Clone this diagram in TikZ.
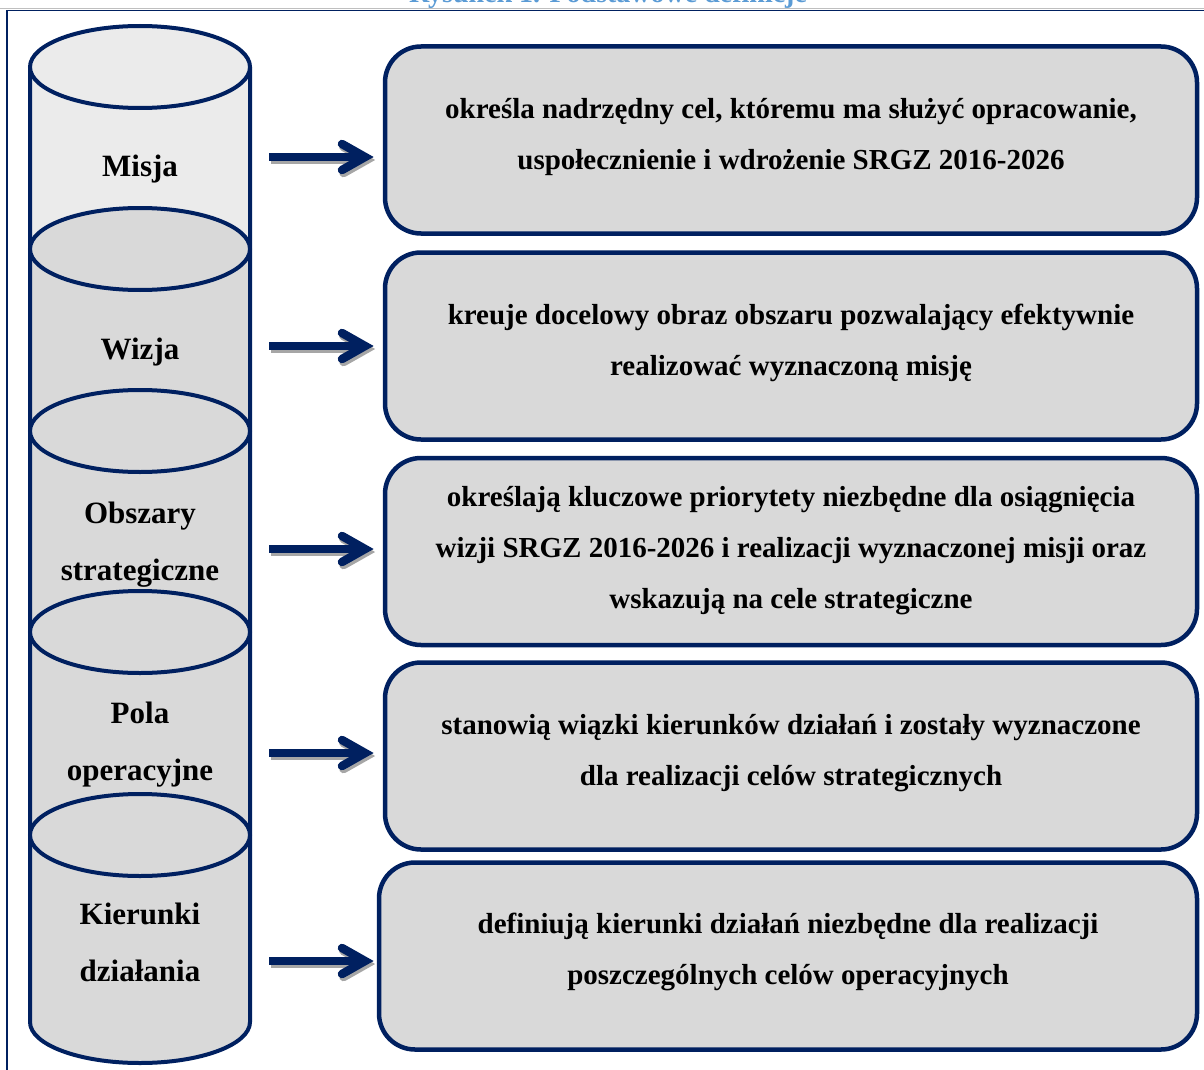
\documentclass[tikz,border=0pt]{standalone}
\usepackage{fontspec}
\setmainfont{Liberation Serif}
\definecolor{navy}{HTML}{002060}
\definecolor{boxgray}{HTML}{D9D9D9}
\definecolor{lightcyl}{HTML}{EBEBEB}
\definecolor{titleblue}{HTML}{5B9BD5}
\definecolor{shadowgray}{HTML}{A6A6A6}
\begin{document}
\begin{tikzpicture}[x=1pt,y=-1pt,
  cylline/.style={draw=navy, line width=4pt},
  cyltext/.style={font=\fontsize{31}{57}\selectfont\bfseries, align=center, inner sep=0pt},
  defbox/.style={draw=navy, line width=4.5pt, fill=boxgray, rounded corners=36pt,
     minimum width=812pt, minimum height=187pt, inner sep=0pt},
  boxtext/.style={font=\fontsize{29}{51}\selectfont\bfseries, align=center, inner sep=0pt},
  shaft/.style={draw=navy, line width=8pt},
  chev/.style={draw=navy, line width=8.5pt, miter limit=10, line cap=round},
  shaftshadow/.style={draw=shadowgray, line width=8pt},
  chevshadow/.style={draw=shadowgray, line width=8.5pt, miter limit=10, line cap=round},
  frameline/.style={draw=navy, line width=1.6pt},
  titletext/.style={font=\fontsize{28}{32}\selectfont\bfseries, text=titleblue, inner sep=0pt}
]
\useasboundingbox (0,0) rectangle (1204,1070);

% frame and clipped title
\draw[gray!50, line width=0.8pt] (0,8.2) -- (1204,8.2);
\draw[frameline] (7,1080) -- (7,10.5) -- (1215,10.5);
\node[titletext, anchor=base] (title) at (608,3) {Rysunek 1. Podstawowe definicje};

% cylinders
\newcommand{\mycyl}[3]{%
  \filldraw[cylline, fill=#3] (30,#1) -- (30,#2)
     arc[start angle=180, end angle=0, x radius=110, y radius=41] -- (250,#1);
  \filldraw[cylline, fill=#3] (140,#1) ellipse[x radius=110, y radius=41];
}
\mycyl{67}{249}{lightcyl}
\mycyl{249}{431}{boxgray}
\mycyl{431}{632}{boxgray}
\mycyl{632}{835}{boxgray}
\mycyl{835}{1022}{boxgray}

\node[cyltext] (misja) at (140,169) {Misja};
\node[cyltext] (wizja) at (140,352) {Wizja};
\node[cyltext] (obszary) at (140,545) {Obszary\\strategiczne};
\node[cyltext] (pola) at (140,745) {Pola\\operacyjne};
\node[cyltext] (kierunki) at (140,942) {Kierunki\\działania};

% definition boxes
\node[defbox] (d1) at (791,140) {};
\node[defbox] (d2) at (791,346) {};
\node[defbox] (d3) at (791,551.5) {};
\node[defbox] (d4) at (791,756) {};
\node[defbox, minimum width=818pt] (d5) at (788,956) {};

\node[boxtext] (t1) at ([yshift=3pt]d1.center) {określa nadrzędny cel, któremu ma służyć opracowanie,\\uspołecznienie i wdrożenie SRGZ 2016-2026};
\node[boxtext] (t2) at ([yshift=3pt]d2.center) {kreuje docelowy obraz obszaru pozwalający efektywnie\\realizować wyznaczoną misję};
\node[boxtext] (t3) at ([yshift=1pt]d3.center) {określają kluczowe priorytety niezbędne dla osiągnięcia\\wizji SRGZ 2016-2026 i realizacji wyznaczonej misji oraz\\wskazują na cele strategiczne};
\node[boxtext] (t4) at ([yshift=3pt]d4.center) {stanowią wiązki kierunków działań i zostały wyznaczone\\dla realizacji celów strategicznych};
\node[boxtext] (t5) at ([yshift=4pt]d5.center) {definiują kierunki działań niezbędne dla realizacji\\poszczególnych celów operacyjnych};

% arrows (with shadow)
\foreach \i/\yy in {1/157, 2/346, 3/549, 4/753, 5/961}{
  \coordinate (s\i) at (269,\yy);
  \coordinate (v\i) at (365,\yy);
  \coordinate (ss\i) at (270.5,\yy+3);
  \coordinate (vs\i) at (366.5,\yy+3);
  \draw[shaftshadow] (ss\i) -- (vs\i);
  \draw[chevshadow] ([shift={(-23,-13)}]vs\i) -- (vs\i) -- ([shift={(-23,13)}]vs\i);
  \draw[shaft] (s\i) -- (v\i);
  \draw[chev] ([shift={(-23,-13)}]v\i) -- (v\i) -- ([shift={(-23,13)}]v\i);
}
\end{tikzpicture}
\end{document}
